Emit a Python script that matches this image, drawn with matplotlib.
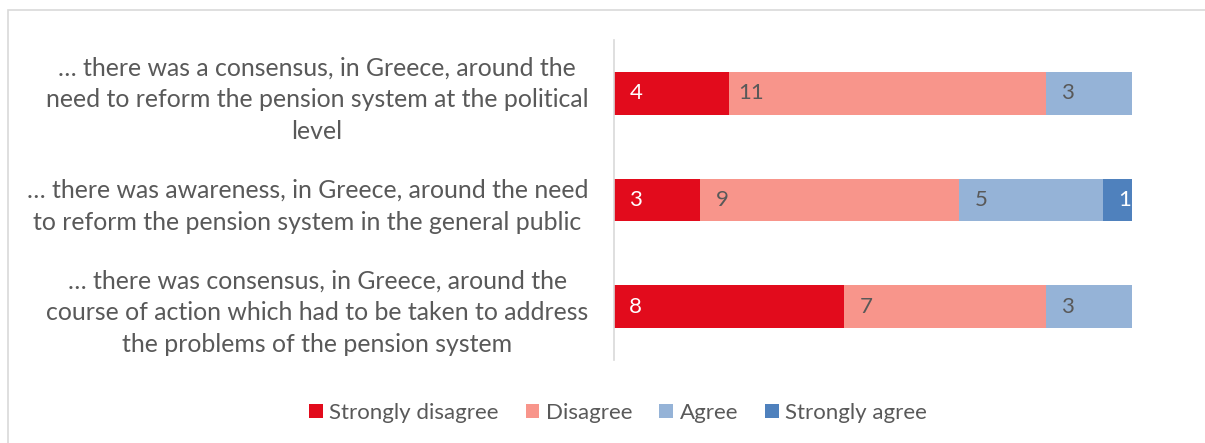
import matplotlib
matplotlib.use("Agg")
import matplotlib.pyplot as plt
from matplotlib.patches import Rectangle
import numpy as np

TEXT_COLOR = "#595959"

categories = [
    "\u2026 there was a consensus, in Greece, around the\nneed to reform the pension system at the political\nlevel",
    "\u2026 there was awareness, in Greece, around the need\nto reform the pension system in the general public",
    "\u2026 there was consensus, in Greece, around the\ncourse of action which had to be taken to address\nthe problems of the pension system",
]
series_names = ["Strongly disagree", "Disagree", "Agree", "Strongly agree"]
strongly_disagree = [4, 3, 8]
disagree = [11, 9, 7]
agree = [3, 5, 3]
strongly_agree = [0, 1, 0]
colors = ["#E20B1C", "#F8958B", "#95B3D7", "#4F81BD"]
label_colors = ["white", TEXT_COLOR, TEXT_COLOR, "white"]

plt.rcParams['font.family'] = ['Lato', 'DejaVu Sans']

fig = plt.figure(figsize=(12.05, 4.43), dpi=100)
# light frame round the chart area
fig.patches.append(Rectangle((8/1205, -0.1), 1.2, 1 - 10/443 + 0.1, transform=fig.transFigure,
                             fill=False, edgecolor="#D9D9D9", linewidth=1.2))
ax = fig.add_axes([614/1205, 1 - 360/443, (1132 - 614)/1205, 320/443])

y = np.arange(len(categories))
left = np.zeros(len(categories))
for name, vals, col, lc in zip(series_names, [strongly_disagree, disagree, agree, strongly_agree],
                               colors, label_colors):
    vals = np.array(vals, dtype=float)
    ax.barh(y, vals, left=left, height=0.4, color=col, label=name)
    for yi, (l, v) in enumerate(zip(left, vals)):
        if v > 0:
            ax.text(l + 0.76, yi, str(int(v)), ha='center', va='center', color=lc, fontsize=16)
    left += vals

ax.set_xlim(0, 18)
ax.set_ylim(2.5, -0.5)
ax.set_yticks(y)
ax.set_yticklabels(categories, fontsize=17.9, color=TEXT_COLOR, multialignment='center',
                   linespacing=1.45)
ax.tick_params(axis='y', length=0, pad=18.5)
ax.set_xticks([])
for s in ["top", "right", "bottom"]:
    ax.spines[s].set_visible(False)
ax.spines["left"].set_color("#D9D9D9")
ax.spines["left"].set_linewidth(1.2)

fig.legend(loc='center', bbox_to_anchor=(618/1205, 1 - 413/443), ncol=4, frameon=False,
           fontsize=16, labelcolor=TEXT_COLOR, handlelength=0.62, handleheight=0.62,
           handletextpad=0.3, columnspacing=1.2)

fig.savefig("out.png", dpi=100)
